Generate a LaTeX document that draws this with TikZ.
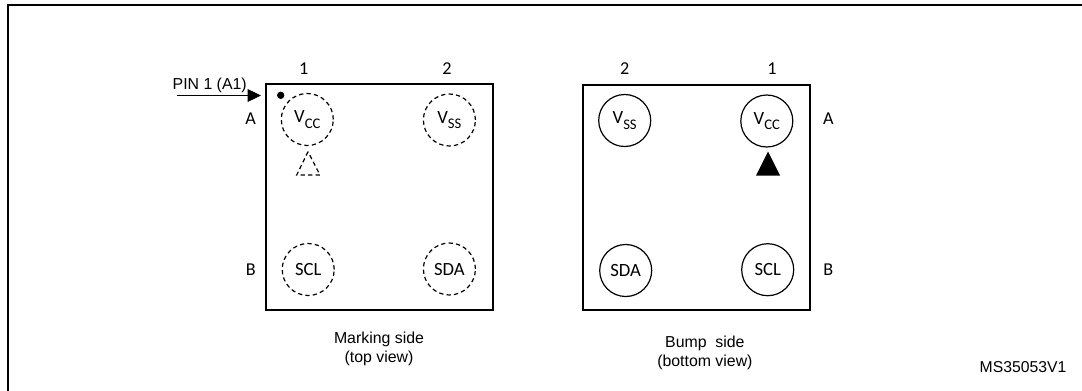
\documentclass[tikz,border=0pt]{standalone}
\usepackage{fontspec}
\setmainfont{Liberation Sans}
\newfontfamily\padfont{Carlito}
\usetikzlibrary{arrows.meta,shapes.geometric}
\newcommand{\subtxt}[2]{\raisebox{0.2ex}{#1}\raisebox{-0.42ex}{\fontsize{11}{11}\selectfont #2}}
\tikzset{
  x=0.75pt,y=-0.75pt,
  every node/.style={inner sep=0pt,outer sep=0pt},
  framestroke/.style={line width=1.6pt,line cap=rect},
  chip/.style={draw,line width=1.3pt},
  ballbase/.style={circle,minimum size=39pt,font=\padfont\fontsize{14}{15}\selectfont,line width=0.9pt},
  hidden/.style={ballbase,draw,dash pattern=on 3.2pt off 2.4pt},
  solid ball/.style={ballbase,draw},
  padlabel/.style={font=\padfont\fontsize{13.6}{14}\selectfont},
  cap text/.style={font=\fontsize{11.9}{14.25}\selectfont,align=center},
}
\begin{document}
\begin{tikzpicture}
\useasboundingbox (0,0) rectangle (1082,390);
% outer frame: open at right and bottom
\coordinate (frameBL) at (8,392);
\coordinate (frameTL) at (8,5);
\coordinate (frameTR) at (1084,5);
\draw[framestroke] (frameBL) -- (frameTL) -- (frameTR);

% chip outlines
\coordinate (lTL) at (266,84.3);
\coordinate (lBR) at (493,310);
\coordinate (rTL) at (583.2,85);
\coordinate (rBR) at (810,310.3);
\draw[chip] (lTL) rectangle (lBR);
\draw[chip] (rTL) rectangle (rBR);

% top view balls
\node[hidden] (lvcc) at (307.3,119.5) {\subtxt{V}{CC}};
\node[hidden] (lvss) at (449.4,120) {\subtxt{V}{SS}};
\node[hidden] (lscl) at (308.2,269.5) {SCL};
\node[hidden] (lsda) at (449.4,269) {SDA};
% bottom view balls
\node[solid ball] (rvss) at (624.7,120.5) {\subtxt{V}{SS}};
\node[solid ball] (rvcc) at (766.8,121) {\subtxt{V}{CC}};
\node[solid ball] (rsda) at (625.7,270.5) {SDA};
\node[solid ball] (rscl) at (767.7,269.7) {SCL};

% orientation triangles
\coordinate (dtA) at (308,151.7);
\coordinate (dtB) at (296.7,175);
\coordinate (dtC) at (320,175);
\draw[line width=0.9pt,dash pattern=on 3.2pt off 2.4pt] (dtA) -- (dtB) -- (dtC) -- cycle;
\coordinate (ftA) at (768,151.5);
\coordinate (ftB) at (756,175.5);
\coordinate (ftC) at (780,175.5);
\fill (ftA) -- (ftB) -- (ftC) -- cycle;

% pin 1 dot and arrow
\coordinate (dot) at (280.7,95.3);
\fill (dot) circle (3.7);
\coordinate (pinS) at (176.7,95.5);
\coordinate (pinE) at (261,95.5);
\draw[line width=0.9pt,-{Triangle[length=10pt,width=9.5pt]}] (pinS) -- (pinE);
\node[font=\fontsize{11.9}{14}\selectfont] (pin) at (209.7,85) {PIN 1 (A1)};

% row / column labels
\node[padlabel] (c1l) at (303.7,69) {1};
\node[padlabel] (c2l) at (447,69) {2};
\node[padlabel] (rAl) at (250.7,118.3) {A};
\node[padlabel] (rBl) at (250.7,270) {B};
\node[padlabel] (c2r) at (624.7,69) {2};
\node[padlabel] (c1r) at (772,69) {1};
\node[padlabel] (rAr) at (828.3,118.3) {A};
\node[padlabel] (rBr) at (828.3,269.7) {B};

% captions
\node[cap text] (capl) at (379,348.8) {Marking side\\(top view)};
\node[cap text] (capr) at (704.9,352.8) {Bump\ \ side\\(bottom view)};
\node[font=\fontsize{11.8}{14}\selectfont] (ref) at (1023,366.7) {MS35053V1};
\end{tikzpicture}
\end{document}
